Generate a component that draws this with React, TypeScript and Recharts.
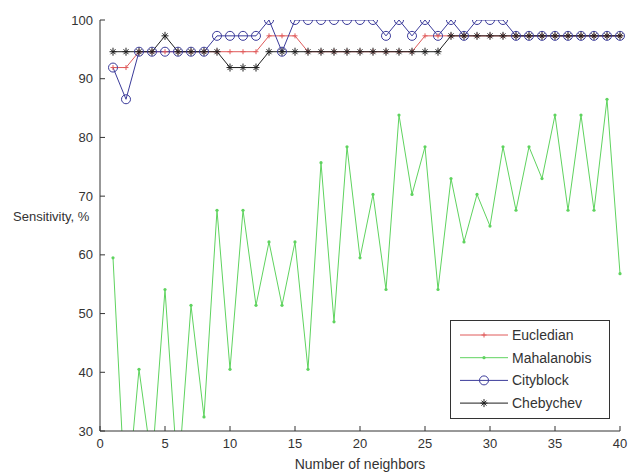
import React from "react";
import { Legend, Line, LineChart, XAxis, YAxis } from "recharts";

const neighbors = [
  1, 2, 3, 4, 5, 6, 7, 8, 9, 10, 11, 12, 13, 14, 15, 16, 17, 18, 19, 20,
  21, 22, 23, 24, 25, 26, 27, 28, 29, 30, 31, 32, 33, 34, 35, 36, 37, 38, 39, 40,
];

const eucledian = [
  91.9, 91.9, 94.6, 94.6, 94.6, 94.6, 94.6, 94.6, 94.6, 94.6,
  94.6, 94.6, 97.3, 97.3, 97.3, 94.6, 94.6, 94.6, 94.6, 94.6,
  94.6, 94.6, 94.6, 94.6, 97.3, 97.3, 97.3, 97.3, 97.3, 97.3,
  97.3, 97.3, 97.3, 97.3, 97.3, 97.3, 97.3, 97.3, 97.3, 97.3,
];

const mahalanobis = [
  59.5, 16.2, 40.5, 24.3, 54.1, 21.6, 51.4, 32.4, 67.6, 40.5,
  67.6, 51.4, 62.2, 51.4, 62.2, 40.5, 75.7, 48.6, 78.4, 59.5,
  70.3, 54.1, 83.8, 70.3, 78.4, 54.1, 73.0, 62.2, 70.3, 64.9,
  78.4, 67.6, 78.4, 73.0, 83.8, 67.6, 83.8, 67.6, 86.5, 56.8,
];

const cityblock = [
  91.9, 86.5, 94.6, 94.6, 94.6, 94.6, 94.6, 94.6, 97.3, 97.3,
  97.3, 97.3, 100, 94.6, 100, 100, 100, 100, 100, 100,
  100, 97.3, 100, 97.3, 100, 97.3, 100, 97.3, 100, 100,
  100, 97.3, 97.3, 97.3, 97.3, 97.3, 97.3, 97.3, 97.3, 97.3,
];

const chebychev = [
  94.6, 94.6, 94.6, 94.6, 97.3, 94.6, 94.6, 94.6, 94.6, 91.9,
  91.9, 91.9, 94.6, 94.6, 94.6, 94.6, 94.6, 94.6, 94.6, 94.6,
  94.6, 94.6, 94.6, 94.6, 94.6, 94.6, 97.3, 97.3, 97.3, 97.3,
  97.3, 97.3, 97.3, 97.3, 97.3, 97.3, 97.3, 97.3, 97.3, 97.3,
];

const xTicks = [0, 5, 10, 15, 20, 25, 30, 35, 40];
const yTicks = [30, 40, 50, 60, 70, 80, 90, 100];

const data = neighbors.map((k, i) => ({
  k,
  eucledian: eucledian[i],
  mahalanobis: mahalanobis[i],
  cityblock: cityblock[i],
  chebychev: chebychev[i],
}));

const FONT = '"Liberation Sans", Arial, sans-serif';
const AXIS = "#333";

type Marker = "plus" | "dot" | "circle" | "star";

const series: { key: string; name: string; color: string; marker: Marker }[] = [
  { key: "eucledian", name: "Eucledian", color: "#e05a5a", marker: "plus" },
  { key: "mahalanobis", name: "Mahalanobis", color: "#5fd35f", marker: "dot" },
  { key: "cityblock", name: "Cityblock", color: "#3b3b9a", marker: "circle" },
  { key: "chebychev", name: "Chebychev", color: "#1e1e1e", marker: "star" },
];

function markerShape(marker: Marker, cx: number, cy: number, color: string) {
  switch (marker) {
    case "plus":
      return (
        <g stroke={color} strokeWidth={1}>
          <line x1={cx - 2.5} y1={cy} x2={cx + 2.5} y2={cy} />
          <line x1={cx} y1={cy - 2.5} x2={cx} y2={cy + 2.5} />
        </g>
      );
    case "dot":
      return <circle cx={cx} cy={cy} r={1.6} fill={color} stroke="none" />;
    case "circle":
      return <circle cx={cx} cy={cy} r={4.5} fill="none" stroke={color} strokeWidth={1} />;
    case "star":
      return (
        <g stroke={color} strokeWidth={1}>
          <line x1={cx - 3.5} y1={cy} x2={cx + 3.5} y2={cy} />
          <line x1={cx} y1={cy - 4} x2={cx} y2={cy + 4} />
          <line x1={cx - 2.5} y1={cy - 2.5} x2={cx + 2.5} y2={cy + 2.5} />
          <line x1={cx - 2.5} y1={cy + 2.5} x2={cx + 2.5} y2={cy - 2.5} />
        </g>
      );
  }
}

function makeDot(marker: Marker, color: string) {
  return (props: { cx?: number; cy?: number; index?: number }) => {
    const { cx, cy, index } = props;
    if (cx == null || cy == null) return <g key={`d-${index}`} />;
    return <g key={`d-${index}`}>{markerShape(marker, cx, cy, color)}</g>;
  };
}

function LegendBox() {
  return (
    <svg width={160} height={99} style={{ display: "block" }}>
      <rect x={0.5} y={0.5} width={159} height={98} fill="#fff" stroke={AXIS} strokeWidth={1} />
      {series.map((s, i) => {
        const y = 15 + i * 22.7;
        return (
          <g key={s.key}>
            <line x1={10} y1={y} x2={58} y2={y} stroke={s.color} strokeWidth={1} />
            {markerShape(s.marker, 34, y, s.color)}
            <text x={62} y={y + 5} fontSize={14} fill="#333" fontFamily={FONT}>
              {s.name}
            </text>
          </g>
        );
      })}
    </svg>
  );
}

export default function App() {
  return (
    <div style={{ position: "absolute", left: 0, top: 0, background: "#fff" }}>
      <LineChart
        width={633}
        height={472}
        data={data}
        margin={{ top: 20, right: 13, left: 0, bottom: 0 }}
        style={{ fontFamily: FONT }}
      >
        <XAxis
          dataKey="k"
          type="number"
          domain={[0, 40]}
          ticks={xTicks}
          height={41}
          tickSize={-5}
          tickMargin={13}
          stroke={AXIS}
          tick={{ fill: "#333", fontSize: 13 }}
          label={{
            value: "Number of neighbors",
            position: "insideBottom",
            offset: 3,
            fill: "#333",
            fontSize: 14,
          }}
        />
        <YAxis
          type="number"
          domain={[30, 100]}
          ticks={yTicks}
          allowDataOverflow
          width={100}
          tickSize={-5}
          tickMargin={12}
          stroke={AXIS}
          tick={{ fill: "#333", fontSize: 13 }}
          label={{
            value: "Sensitivity, %",
            position: "insideLeft",
            offset: 13,
            dy: -9,
            fill: "#333",
            fontSize: 13,
          }}
        />
        <Legend
          layout="vertical"
          align="center"
          verticalAlign="middle"
          wrapperStyle={{ position: "absolute", left: 450, top: 320, width: 160, height: 99 }}
          content={() => <LegendBox />}
        />
        {series.map((s) => (
          <Line
            key={s.key}
            type="linear"
            dataKey={s.key}
            name={s.name}
            stroke={s.color}
            strokeWidth={1}
            dot={makeDot(s.marker, s.color)}
            activeDot={false}
            isAnimationActive={false}
          />
        ))}
      </LineChart>
    </div>
  );
}
